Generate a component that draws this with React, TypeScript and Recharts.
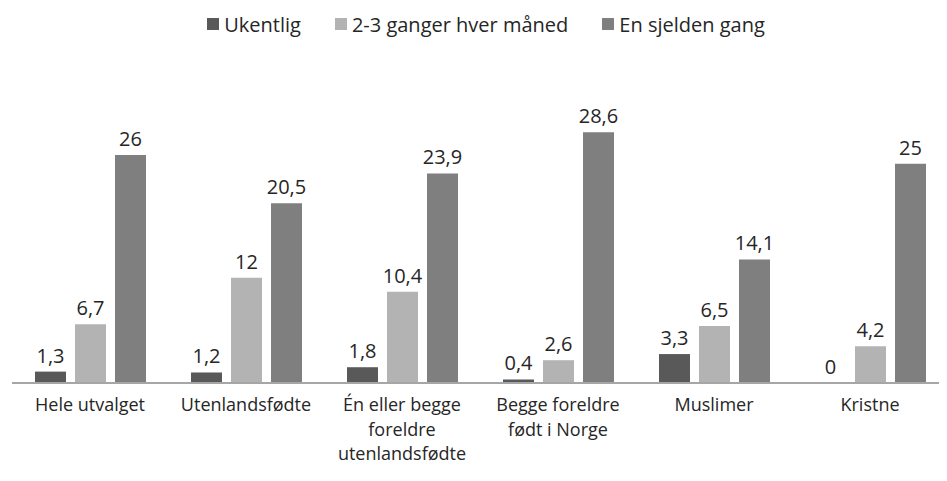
import { BarChart, Bar, XAxis, YAxis, Legend, Rectangle } from 'recharts';

const categories = [
  'Hele utvalget',
  'Utenlandsfødte',
  'Én eller begge\nforeldre\nutenlandsfødte',
  'Begge foreldre\nfødt i Norge',
  'Muslimer',
  'Kristne',
];
const ukentlig = [1.3, 1.2, 1.8, 0.4, 3.3, 0];
const maanedlig = [6.7, 12, 10.4, 2.6, 6.5, 4.2];
const sjelden = [26, 20.5, 23.9, 28.6, 14.1, 25];
const yTicks = [0, 5, 10, 15, 20, 25, 30];

const series = [
  { key: 'ukentlig', name: 'Ukentlig', color: '#595959' },
  { key: 'maanedlig', name: '2-3 ganger hver måned', color: '#b3b3b3' },
  { key: 'sjelden', name: 'En sjelden gang', color: '#7f7f7f' },
];

const data = categories.map((c, i) => ({
  kategori: c,
  ukentlig: ukentlig[i],
  maanedlig: maanedlig[i],
  sjelden: sjelden[i],
}));

const FONT = '"Open Sans", sans-serif';
const TEXT = '#262626';

const fmt = (v: any) => String(v).replace('.', ',');

function KategoriTick({ x, y, payload }: any) {
  const lines = String(payload.value).split('\n');
  return (
    <g>
      {lines.map((l, i) => (
        <text key={i} x={x} y={y + 20 + i * 24.5} textAnchor="middle" fill={TEXT} fontSize={18} fontFamily={FONT}>
          {l}
        </text>
      ))}
    </g>
  );
}

// søyle med verdi over, også når verdien er 0
function SoyleMedVerdi(props: any) {
  const { x, y, width, height, fill, value } = props;
  const v = Array.isArray(value) ? value[1] - value[0] : value;
  return (
    <g>
      {height > 0 && <Rectangle x={x} y={y} width={width} height={height} fill={fill} />}
      <text x={x + width / 2} y={y - 9} textAnchor="middle" fill={TEXT} fontSize={20} fontFamily={FONT}>
        {fmt(v)}
      </text>
    </g>
  );
}

function Forklaring() {
  return (
    <div
      style={{
        display: 'flex',
        justifyContent: 'center',
        alignItems: 'center',
        gap: 34,
        height: 24,
        marginLeft: 16,
        fontFamily: FONT,
        fontSize: 20,
        color: TEXT,
      }}
    >
      {series.map((s) => (
        <div key={s.key} style={{ display: 'flex', alignItems: 'center' }}>
          <span style={{ width: 12, height: 12, background: s.color, display: 'inline-block', marginRight: 5 }} />
          {s.name}
        </div>
      ))}
    </div>
  );
}

export default function App() {
  return (
    <div style={{ width: 940, height: 473, background: '#fff' }}>
      <BarChart
        width={940}
        height={473}
        data={data}
        margin={{ top: 88, right: 0, left: 4, bottom: 8 }}
        barSize={31}
        barGap={9}
      >
        <Legend verticalAlign="top" content={() => <Forklaring />} wrapperStyle={{ top: 4, left: 0, width: 940, height: 24 }} />
        <XAxis
          dataKey="kategori"
          interval={0}
          tick={<KategoriTick />}
          tickLine={false}
          axisLine={{ stroke: '#a6a6a6', strokeWidth: 2 }}
          height={90}
        />
        <YAxis hide domain={[0, 30]} ticks={yTicks} />
        {series.map((s) => (
          <Bar
            key={s.key}
            dataKey={s.key}
            name={s.name}
            fill={s.color}
            isAnimationActive={false}
            shape={<SoyleMedVerdi />}
          />
        ))}
      </BarChart>
    </div>
  );
}
